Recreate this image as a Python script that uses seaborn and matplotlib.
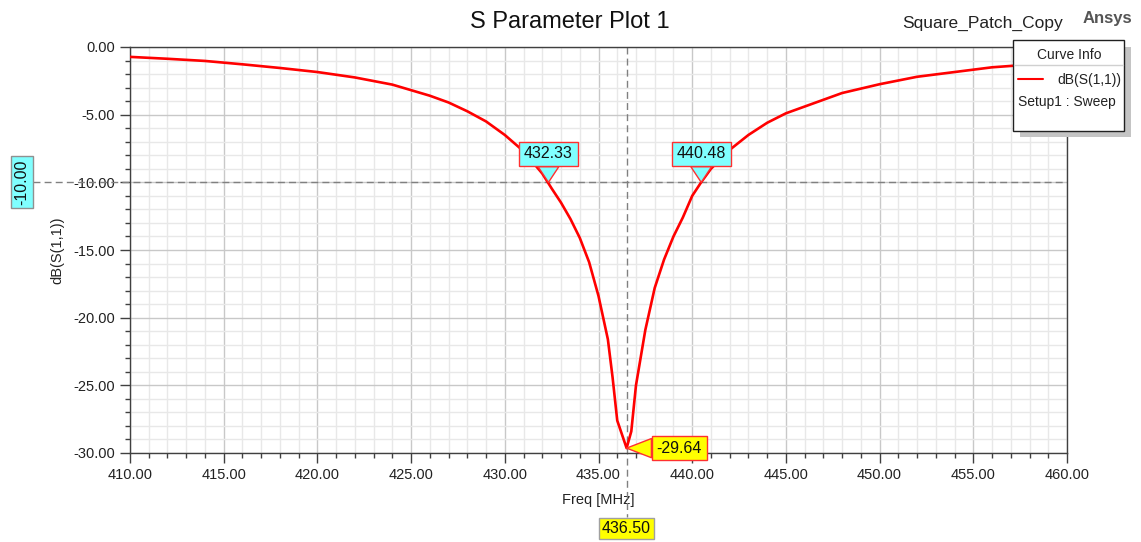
import numpy as np
import pandas as pd
import seaborn as sns
import matplotlib.pyplot as plt
from matplotlib.ticker import MultipleLocator, FormatStrFormatter
from matplotlib.patches import Rectangle
from matplotlib.lines import Line2D
import matplotlib.transforms as mtransforms

# S11 sweep
freq_mhz = [410, 412, 414, 416, 418, 420, 422, 424, 426, 427, 428, 429, 430, 431, 432,
            432.5, 433, 433.5, 434, 434.5, 435, 435.5, 435.75, 436, 436.5,
            436.75, 437, 437.5, 438, 438.5, 439, 439.5, 440, 440.5, 441, 442, 443,
            444, 445, 446, 448, 450, 452, 454, 456, 458, 460]
s11_db = [-0.73, -0.87, -1.03, -1.28, -1.55, -1.85, -2.25, -2.78, -3.6, -4.1, -4.75,
          -5.5, -6.5, -7.7, -9.35, -10.45, -11.5, -12.7, -14.1, -15.9, -18.4, -21.6,
          -24.4, -27.6, -29.64, -28.4, -25.0, -20.9, -17.8, -15.7, -14.0,
          -12.6, -11.0, -9.95, -9.0, -7.6, -6.5, -5.6, -4.9, -4.4, -3.4, -2.75,
          -2.2, -1.85, -1.5, -1.3, -1.15]

marker_x = [432.33, 440.48]
marker_y = [-10.0, -10.0]
min_freq = 436.50
min_db = -29.64
ref_level = -10.00

df = pd.DataFrame({"Freq [MHz]": freq_mhz, "dB(S(1,1))": s11_db})

sns.set_theme(style="white")
plt.rcParams["font.family"] = ["Liberation Sans", "DejaVu Sans"]

W, H = 1141, 542
fig = plt.figure(figsize=(W / 100, H / 100), dpi=100)
ax = fig.add_axes([130 / W, 1 - 453 / H, 937 / W, 406 / H])

sns.lineplot(data=df, x="Freq [MHz]", y="dB(S(1,1))", ax=ax, color="#ff0000",
             lw=1.9, zorder=3)

ax.set_xlim(410, 460)
ax.set_ylim(-30, 0)
ax.xaxis.set_major_locator(MultipleLocator(5))
ax.xaxis.set_minor_locator(MultipleLocator(1))
ax.yaxis.set_major_locator(MultipleLocator(5))
ax.yaxis.set_minor_locator(MultipleLocator(1))
ax.xaxis.set_major_formatter(FormatStrFormatter("%.2f"))
ax.yaxis.set_major_formatter(FormatStrFormatter("%.2f"))
ax.grid(True, which="major", color="#c8c8c8", lw=1.0)
ax.grid(True, which="minor", color="#e8e8e8", lw=1.0)
ax.set_axisbelow(True)
for s in ax.spines.values():
    s.set_color("#404040")
    s.set_linewidth(1.0)
ax.tick_params(which="major", direction="out", length=7, width=1, color="#404040",
               labelsize=10.5, labelcolor="#222222", pad=4, bottom=True, left=True)
ax.tick_params(which="minor", direction="out", length=3.5, width=1, color="#404040",
               bottom=True, left=True)

ax.set_xlabel("Freq [MHz]", fontsize=10.5, color="#222222")
ax.set_ylabel("dB(S(1,1))", fontsize=10.5, color="#222222")
ax.xaxis.set_label_coords(0.5, -0.098)
ax.yaxis.set_label_coords(-0.07, 0.5)

# reference lines
bx = mtransforms.blended_transform_factory(ax.transData, ax.transAxes)
by = mtransforms.blended_transform_factory(ax.transAxes, ax.transData)
ax.plot([min_freq, min_freq], [1, -0.158], transform=bx, color="#808080", lw=1,
        ls=(0, (5, 3)), clip_on=False, zorder=2)
ax.plot([-0.104, 1], [ref_level, ref_level], transform=by, color="#808080", lw=1,
        ls=(0, (5, 3)), clip_on=False, zorder=2)

# axis value boxes
ax.text(-0.1153, ref_level, "%.2f" % ref_level, transform=by, rotation=90,
        ha="center", va="center", fontsize=11.5, color="#111111",
        bbox=dict(boxstyle="square,pad=0.2", fc="#80ffff", ec="#909090", lw=1))
ax.text(min_freq, -0.186, "%.2f" % min_freq, transform=bx, ha="center",
        va="center", fontsize=11.5, color="#111111",
        bbox=dict(boxstyle="square,pad=0.2", fc="#ffff00", ec="#a0a0a0", lw=1))

# marker callouts
for mx, my in zip(marker_x, marker_y):
    ax.annotate("%.2f" % mx, xy=(mx, my), xytext=(0, 20.5), textcoords="offset points",
                ha="center", va="center", fontsize=11.5, color="#111111", zorder=5,
                bbox=dict(boxstyle="square,pad=0.3", fc="#80ffff", ec="#ff3030", lw=1),
                arrowprops=dict(arrowstyle="wedge,tail_width=1.3,shrink_factor=0.5",
                                fc="#80ffff", ec="#ff3030", lw=1, shrinkA=0, shrinkB=0))
ax.annotate("%.2f" % min_db, xy=(min_freq, min_db), xytext=(38, 0),
            textcoords="offset points", ha="center", va="center", fontsize=11.5,
            color="#111111", zorder=5,
            bbox=dict(boxstyle="square,pad=0.3", fc="#ffff00", ec="#ff3030", lw=1),
            arrowprops=dict(arrowstyle="wedge,tail_width=1.2,shrink_factor=0.5",
                            fc="#ffff00", ec="#ff3030", lw=1, shrinkA=0, shrinkB=0),
            annotation_clip=False)

# header texts
fig.text(570 / W, 1 - 22 / H, "S Parameter Plot 1", ha="center", va="center",
         fontsize=17, color="#111111")
fig.text(983 / W, 1 - 23 / H, "Square_Patch_Copy", ha="center", va="center",
         fontsize=12.5, color="#222222")
fig.text(1107 / W, 1 - 18 / H, "Ansys", ha="center", va="center", fontsize=12,
         fontweight="bold", color="#555555")

# curve info box
def fx(px):
    return px / W

def fy(py):
    return 1 - py / H

fig.add_artist(Rectangle((fx(1020), fy(137)), fx(1131) - fx(1020), fy(47) - fy(137),
                         transform=fig.transFigure, fc="#c4c4c4", ec="none", zorder=6))
fig.add_artist(Rectangle((fx(1013), fy(131)), fx(1124) - fx(1013), fy(40) - fy(131),
                         transform=fig.transFigure, fc="white", ec="#202020", lw=1,
                         zorder=7))
fig.add_artist(Line2D([fx(1014), fx(1123)], [fy(65), fy(65)], transform=fig.transFigure,
                      color="#d0d0d0", lw=1, zorder=8))
fig.add_artist(Line2D([fx(1018), fx(1043)], [fy(79), fy(79)], transform=fig.transFigure,
                      color="#ff0000", lw=1.5, zorder=8))
fig.text(fx(1069), fy(55), "Curve Info", ha="center", va="center", fontsize=10,
         color="#222222", zorder=9)
fig.text(fx(1121), fy(80), "dB(S(1,1))", ha="right", va="center", fontsize=10,
         color="#222222", zorder=9)
fig.text(fx(1018), fy(102), "Setup1 : Sweep", ha="left", va="center", fontsize=10,
         color="#222222", zorder=9)

fig.savefig("out.png", dpi=100)
